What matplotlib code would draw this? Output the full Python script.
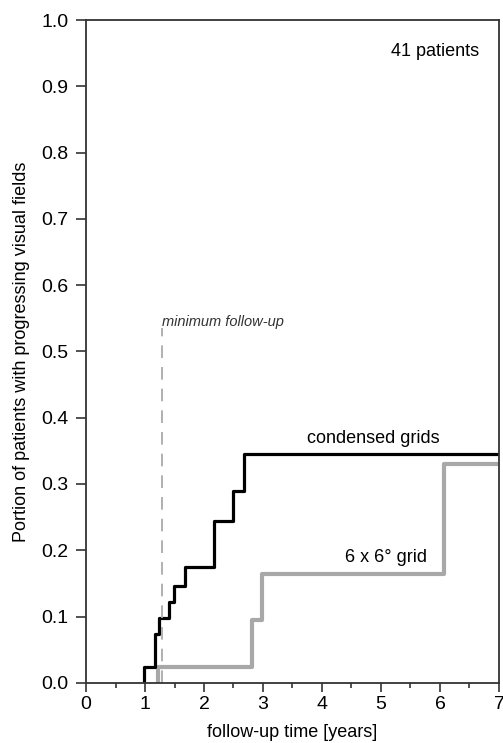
import matplotlib
matplotlib.use("Agg")
import matplotlib.pyplot as plt
import numpy as np

plt.rcParams['font.family'] = ['Liberation Sans', 'DejaVu Sans']

# step curves (x = follow-up years, y = portion progressing)
condensed_x = [0.99, 1.17, 1.24, 1.41, 1.49, 1.67, 2.17, 2.50, 2.68, 7.0]
condensed_y = [0.024, 0.073, 0.098, 0.122, 0.146, 0.174, 0.244, 0.290, 0.345, 0.345]
grid6_x = [1.22, 2.82, 2.99, 6.07, 7.0]
grid6_y = [0.024, 0.095, 0.164, 0.330, 0.330]
min_follow_up = 1.28

fig = plt.figure(figsize=(5.03, 7.43), dpi=100)
ax = fig.add_axes([0.171, 0.081, 0.821, 0.892])

ax.step([grid6_x[0]] + grid6_x, [0.0] + grid6_y, where='post', color='#a8a8a8', lw=3.0)
ax.step([condensed_x[0]] + condensed_x, [0.0] + condensed_y, where='post', color='black', lw=2.3)
ax.plot([min_follow_up, min_follow_up], [0, 0.535], color='#aaaaaa', lw=1.3, ls=(0, (7, 5)))

ax.text(1.283, 0.538, 'minimum follow-up', style='italic', fontsize=10.5, color='#333333', va='baseline')
ax.text(3.74, 0.362, 'condensed grids', fontsize=13, va='baseline')
ax.text(4.39, 0.1825, '6 x 6\u00b0 grid', fontsize=13, va='baseline')
ax.text(6.66, 0.952, '41 patients', fontsize=13, ha='right', va='center')

ax.set_xlim(0, 7)
ax.set_ylim(0, 1.0)
ax.set_xticks(np.arange(0, 8, 1))
ax.set_xticks(np.arange(0.5, 7, 1), minor=True)
ax.set_yticks(np.arange(0, 1.01, 0.1))
ax.set_yticklabels(['%.1f' % v for v in np.arange(0, 1.01, 0.1)])
ax.tick_params(axis='both', labelsize=14, direction='out', width=1.2, color='#333333')
ax.tick_params(axis='y', length=7.5, pad=5)
ax.tick_params(axis='x', length=6.5, pad=3)
ax.tick_params(axis='x', which='minor', direction='out', length=3.5, width=1.2, color='#333333')
for s in ax.spines.values():
    s.set_linewidth(1.3)
    s.set_color('#333333')

ax.set_xlabel('follow-up time [years]', fontsize=13, labelpad=8)
ax.set_ylabel('Portion of patients with progressing visual fields', fontsize=13, labelpad=8)

plt.savefig('out.png', dpi=100)
plt.close()
